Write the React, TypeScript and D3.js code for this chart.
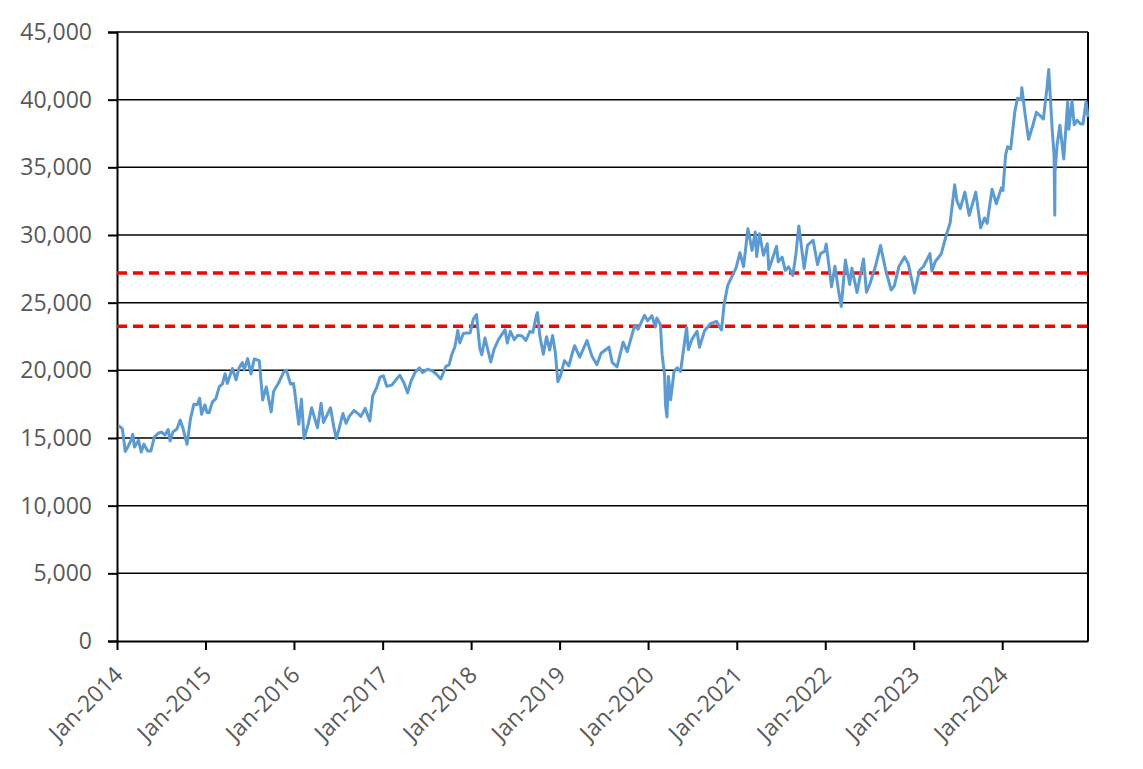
import { FC, useRef, useEffect } from 'react'
import * as d3 from 'd3'

// Daily index level, sampled from the chart (date, close)
const dates2014 = ['2014-01-06','2014-01-15','2014-01-23','2014-02-04','2014-02-14','2014-02-28','2014-03-07','2014-03-14','2014-03-31','2014-04-11','2014-04-22','2014-05-08','2014-05-21','2014-06-04','2014-06-20','2014-07-04','2014-07-18','2014-07-31','2014-08-08','2014-08-20','2014-09-05','2014-09-19','2014-10-01','2014-10-17','2014-10-31','2014-11-14','2014-11-28','2014-12-08','2014-12-16','2014-12-30']
const values2014 = [15908,15808,15695,14008,14313,14841,15274,14327,14828,13960,14546,14033,14042,15069,15349,15437,15215,15621,14778,15454,15669,16321,15661,14532,16414,17491,17460,17935,16756,17451]

const dates2015 = ['2015-01-07','2015-01-16','2015-01-30','2015-02-13','2015-02-27','2015-03-12','2015-03-23','2015-04-01','2015-04-22','2015-05-07','2015-05-20','2015-06-02','2015-06-10','2015-06-24','2015-07-08','2015-07-21','2015-08-11','2015-08-25','2015-09-09','2015-09-29','2015-10-09','2015-10-30','2015-11-20','2015-12-01','2015-12-18','2015-12-30']
const values2015 = [16885,16864,17674,17913,18798,18991,19754,19035,20133,19292,20196,20569,20046,20868,19737,20841,20720,17806,18771,16930,18438,19083,19879,20012,18986,19033]

const dates2016 = ['2016-01-04','2016-01-21','2016-02-01','2016-02-12','2016-02-29','2016-03-14','2016-04-07','2016-04-22','2016-05-02','2016-05-31','2016-06-13','2016-06-24','2016-07-05','2016-07-21','2016-08-03','2016-08-16','2016-09-05','2016-09-21','2016-10-03','2016-10-21','2016-11-09','2016-11-21','2016-12-08','2016-12-21']
const values2016 = [18450,16017,17865,14952,16026,17233,15749,17572,16147,17234,15859,14952,15669,16810,16083,16596,17037,16807,16598,17185,16251,18106,18765,19494]

const dates2017 = ['2017-01-04','2017-01-18','2017-02-08','2017-02-24','2017-03-13','2017-03-30','2017-04-14','2017-04-28','2017-05-15','2017-06-02','2017-06-15','2017-07-05','2017-07-25','2017-08-10','2017-08-29','2017-09-19','2017-10-02','2017-10-13','2017-10-26','2017-11-07','2017-11-15','2017-11-30','2017-12-13','2017-12-28']
const values2017 = [19594,18813,18908,19284,19633,19063,18335,19197,19869,20177,19831,20081,19955,19729,19362,20299,20400,21155,21739,22937,22028,22725,22758,22765]

const dates2018 = ['2018-01-10','2018-01-23','2018-02-06','2018-02-14','2018-02-27','2018-03-23','2018-04-06','2018-04-24','2018-05-21','2018-05-30','2018-06-12','2018-06-28','2018-07-13','2018-07-30','2018-08-15','2018-08-31','2018-09-13','2018-09-28','2018-10-02','2018-10-11','2018-10-26','2018-11-08','2018-11-21','2018-12-03','2018-12-14','2018-12-25']
const values2018 = [23788,24124,21610,21154,22390,20618,21568,22278,23002,22018,22878,22270,22597,22544,22204,22865,22821,24120,24270,22590,21184,22487,21507,22574,21375,19155]

const dates2019 = ['2019-01-04','2019-01-21','2019-02-08','2019-02-27','2019-03-04','2019-03-25','2019-04-24','2019-05-14','2019-06-04','2019-06-21','2019-07-24','2019-08-06','2019-08-26','2019-09-20','2019-10-07','2019-10-30','2019-11-07','2019-11-21','2019-12-17','2019-12-30']
const values2019 = [19562,20719,20333,21556,21822,20977,22200,21067,20408,21258,21710,20585,20261,22079,21375,22843,23330,23038,24066,23656]

const dates2020 = ['2020-01-17','2020-01-31','2020-02-06','2020-02-21','2020-02-28','2020-03-09','2020-03-13','2020-03-19','2020-03-25','2020-04-03','2020-04-17','2020-04-30','2020-05-14','2020-05-29','2020-06-08','2020-06-15','2020-06-30','2020-07-21','2020-07-31','2020-08-21','2020-09-15','2020-10-09','2020-10-30','2020-11-10','2020-11-25','2020-12-09','2020-12-29']
const values2020 = [24041,23205,23873,23386,21142,19698,17431,16552,19546,17820,19897,20193,19915,21877,23178,21530,22288,22884,21710,22920,23455,23619,22977,24905,26297,26817,27568]

const dates2021 = ['2021-01-14','2021-01-29','2021-02-16','2021-03-05','2021-03-18','2021-03-24','2021-04-05','2021-04-21','2021-05-07','2021-05-13','2021-06-14','2021-06-21','2021-07-07','2021-07-20','2021-08-03','2021-08-20','2021-09-01','2021-09-14','2021-10-06','2021-10-20','2021-11-12','2021-11-30','2021-12-13','2021-12-30']
const values2021 = [28698,27663,30467,28864,30216,28405,30089,28508,29357,27448,29161,28010,28366,27389,27642,27013,28451,30670,27528,29255,29609,27821,28640,28791]

const dates2022 = ['2022-01-05','2022-01-27','2022-02-10','2022-02-24','2022-03-08','2022-03-25','2022-04-12','2022-04-21','2022-05-12','2022-06-08','2022-06-20','2022-07-05','2022-07-29','2022-08-17','2022-09-07','2022-09-30','2022-10-13','2022-11-01','2022-11-24','2022-12-09','2022-12-28']
const values2022 = [29332,26170,27696,25970,24717,28149,26335,27553,25748,28234,25771,26423,27801,29222,27430,25937,26237,27678,28383,27901,26340]

const dates2023 = ['2023-01-04','2023-01-25','2023-02-10','2023-03-09','2023-03-17','2023-03-31','2023-04-24','2023-05-17','2023-05-31','2023-06-19','2023-06-28','2023-07-12','2023-07-31','2023-08-18','2023-09-14','2023-10-04','2023-10-20','2023-10-31','2023-11-20','2023-12-08','2023-12-28']
const values2023 = [25717,27395,27670,28623,27334,28041,28593,30093,30887,33706,32538,31943,33172,31450,33168,30526,31259,30858,33388,32307,33464]

const dates2024 = ['2024-01-04','2024-01-15','2024-01-23','2024-02-05','2024-02-22','2024-03-04','2024-03-19','2024-03-22','2024-04-04','2024-04-19','2024-05-08','2024-05-21','2024-06-04','2024-06-19','2024-07-04','2024-07-11','2024-07-25','2024-08-02','2024-08-05','2024-08-06','2024-08-15','2024-08-26','2024-09-06','2024-09-11','2024-09-27','2024-10-02','2024-10-15','2024-10-24','2024-11-05','2024-11-18','2024-11-29','2024-12-12','2024-12-20']
const values2024 = [33288,35901,36517,36354,39098,40109,40004,40888,38992,37068,38202,39069,38837,38570,40913,42224,37869,35909,31458,34675,36726,38110,36391,35620,39829,37808,39910,38143,38474,38220,38208,39849,38701]

// Horizontal reference levels (red dashed)
const refLevels = [27200, 23250]

const yTicks = [0, 5000, 10000, 15000, 20000, 25000, 30000, 35000, 40000, 45000]
const xStart = '2014-01-01'
const xEnd = '2024-12-20'

const allDates = [...dates2014, ...dates2015, ...dates2016, ...dates2017, ...dates2018, ...dates2019, ...dates2020, ...dates2021, ...dates2022, ...dates2023, ...dates2024]
const allValues = [...values2014, ...values2015, ...values2016, ...values2017, ...values2018, ...values2019, ...values2020, ...values2021, ...values2022, ...values2023, ...values2024]

const PriceChart: FC = () => {
  const svgRef = useRef<SVGSVGElement>(null)

  useEffect(() => {
    if (!svgRef.current) return
    const svg = d3.select(svgRef.current)
    svg.selectAll('*').remove()

    const width = 1143
    const height = 769
    const left = 117
    const right = 1088
    const top = 32
    const bottom = 641
    const font = '"Open Sans", "Noto Sans", sans-serif'
    const labelColor = '#595959'

    svg.attr('width', width).attr('height', height)

    const parse = d3.timeParse('%Y-%m-%d')
    const data = allDates.map((d, i) => ({ date: parse(d) as Date, value: allValues[i] }))

    const x = d3.scaleTime()
      .domain([parse(xStart) as Date, parse(xEnd) as Date])
      .range([left, right])
    const y = d3.scaleLinear().domain([0, 45000]).range([bottom, top])

    // gridlines
    svg.append('g')
      .selectAll('line')
      .data(yTicks.filter(t => t > 0))
      .join('line')
      .attr('x1', left)
      .attr('x2', right)
      .attr('y1', d => y(d))
      .attr('y2', d => y(d))
      .attr('stroke', '#000')
      .attr('stroke-width', 1.5)

    // y axis
    const yAxis = svg.append('g')
      .attr('transform', `translate(${left},0)`)
      .call(d3.axisLeft(y).tickValues(yTicks).tickSize(9).tickPadding(16)
        .tickFormat(d => d3.format(',')(d as number)))
    yAxis.select('.domain').attr('stroke', '#000').attr('stroke-width', 2)
    yAxis.selectAll('.tick line').attr('stroke', '#000').attr('stroke-width', 2)
    yAxis.selectAll('.tick text')
      .attr('fill', labelColor)
      .attr('font-family', font)
      .attr('font-size', 23)

    // right border
    svg.append('line')
      .attr('x1', right).attr('x2', right)
      .attr('y1', top).attr('y2', bottom)
      .attr('stroke', '#000').attr('stroke-width', 2)

    // x axis
    const yearTicks = d3.timeYear.range(parse('2014-01-01') as Date, parse('2024-12-31') as Date)
    const xAxis = svg.append('g')
      .attr('transform', `translate(0,${bottom})`)
      .call(d3.axisBottom(x).tickValues(yearTicks).tickSize(9).tickSizeOuter(0).tickFormat(() => ''))
    xAxis.select('.domain').attr('stroke', '#000').attr('stroke-width', 2)
    xAxis.selectAll('.tick line').attr('stroke', '#000').attr('stroke-width', 2)

    const fmt = d3.timeFormat('%b-%Y')
    svg.append('g')
      .selectAll('text')
      .data(yearTicks)
      .join('text')
      .attr('transform', d => `translate(${x(d) + 1},${bottom + 29}) rotate(-45)`)
      .attr('text-anchor', 'end')
      .attr('dominant-baseline', 'central')
      .attr('fill', labelColor)
      .attr('font-family', font)
      .attr('font-size', 23)
      .text(d => fmt(d))

    // reference levels
    svg.append('g')
      .selectAll('line')
      .data(refLevels)
      .join('line')
      .attr('x1', left)
      .attr('x2', right)
      .attr('y1', d => y(d))
      .attr('y2', d => y(d))
      .attr('stroke', '#FF0000')
      .attr('stroke-width', 3.5)
      .attr('stroke-dasharray', '10 6')

    // price line
    const line = d3.line<{ date: Date; value: number }>()
      .x(d => x(d.date))
      .y(d => y(d.value))

    svg.append('path')
      .datum(data)
      .attr('d', line)
      .attr('fill', 'none')
      .attr('stroke', '#5B9BD5')
      .attr('stroke-width', 3)
      .attr('stroke-linejoin', 'round')
  }, [])

  return <svg ref={svgRef} style={{ position: 'absolute', left: 0, top: 0, background: '#fff' }} />
}

export default function App() {
  return <PriceChart />
}
